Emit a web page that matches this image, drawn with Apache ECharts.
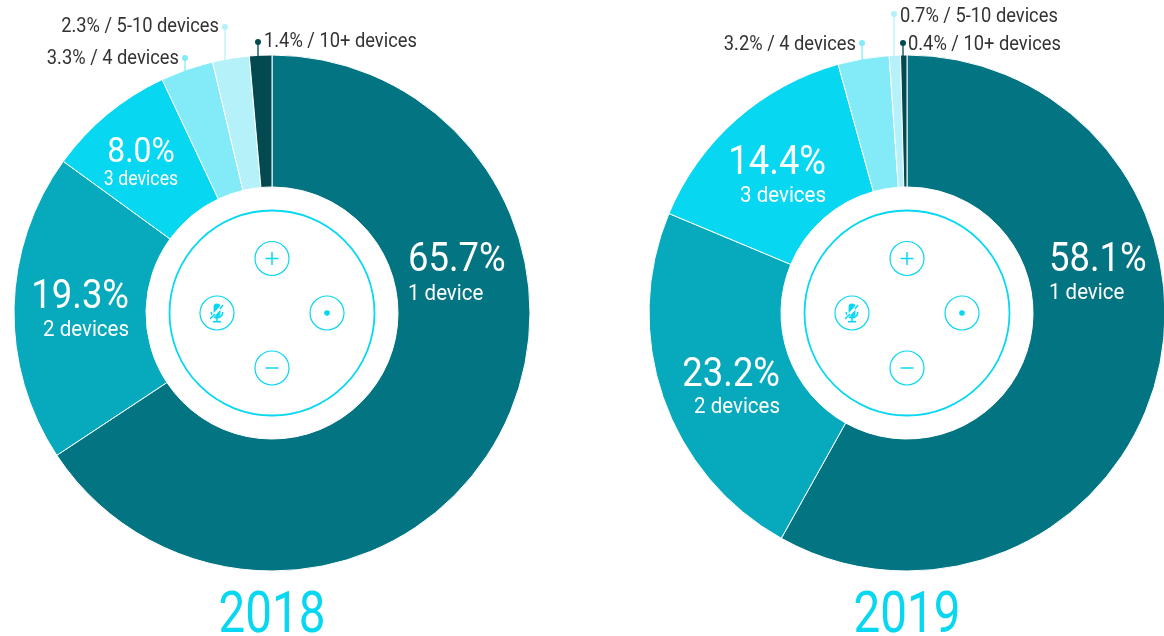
<!DOCTYPE html>
<html><head><meta charset="utf-8">
<style>html,body{margin:0;padding:0;background:#fff}#c{width:1164px;height:636px}</style>
<script src="https://cdn.jsdelivr.net/npm/echarts@6/dist/echarts.min.js"></script></head>
<body><div id="c"></div>
<script>
const categories = ['1 device','2 devices','3 devices','4 devices','5-10 devices','10+ devices'];
const values2018 = [65.7,19.3,8.0,3.3,2.3,1.4];
const values2019 = [58.1,23.2,14.4,3.2,0.7,0.4];
const years = ['2018','2019'];
const colors = ['#027482','#07a9bd','#07d7f0','#83ebf8','#b5f1f9','#034a50'];
const centers = [[272,313],[907,313]];
const R = 258, INNER = 126;
// big labels: [categoryIndex, x, y of pct, y of name, align, pct size, name size]
const bigLabels = [
 [[0,408,261,294,'left',40,22.5],[1,129,298,330,'right',40,22.5],[2,141,153,180,'center',35,19.5]],
 [[0,1049,261,293,'left',40,22.5],[1,780,376,407,'right',40,22.5],[2,826,164,196,'right',40,22.5]]
];
// small labels: [categoryIndex, text x, text y, align, dot x, dot y, line end y]
const smallLabels = [
 [[3,179,59,'right',185,58,72],[4,219,27,'right',225,27,61],[5,264,42,'left',258,42,57]],
 [[3,856,45,'right',862,43,60],[4,900,17,'left',894,14,57],[5,908,45,'left',903,43,56]]
];
const BIGSX = 0.91, SMALLSX = 0.915, YEARSX = 0.835;
const fontFam = 'Roboto, sans-serif';
const cyan = '#07d7f0';
function txt(text,x,y,size,weight,fill,align,sx){
  return {type:'text',x:x,y:y,scaleX:sx,silent:true,z:20,
    style:{text:text,x:0,y:0,font:weight+' '+size+'px '+fontFam,fill:fill,align:align,verticalAlign:'middle'}};
}
function ring(x,y,r,lw){
  return {type:'circle',x:x,y:y,shape:{cx:0,cy:0,r:r},silent:true,z:15,style:{fill:'#fff',stroke:cyan,lineWidth:lw}};
}
function line(x1,y1,x2,y2,col,lw){
  return {type:'line',shape:{x1:x1,y1:y1,x2:x2,y2:y2},silent:true,z:16,style:{stroke:col,lineWidth:lw}};
}
function hub(cx,cy){
  const g=[];
  g.push(ring(cx,cy,102.5,1.8));
  g.push(ring(cx,cy-54.5,17,1.2));
  g.push(ring(cx,cy+55,17,1.2));
  g.push(ring(cx-55,cy,17,1.2));
  g.push(ring(cx+55,cy,17,1.2));
  g.push(line(cx-6.5,cy-54.5,cx+6.5,cy-54.5,cyan,1.5));
  g.push(line(cx,cy-61,cx,cy-48,cyan,1.5));
  g.push(line(cx-6.5,cy+55,cx+6.5,cy+55,cyan,1.5));
  g.push({type:'circle',shape:{cx:cx+55,cy:cy,r:2.8},silent:true,z:16,style:{fill:cyan}});
  const mx=cx-55,my=cy;
  g.push({type:'rect',shape:{x:mx-3.4,y:my-9.5,width:6.8,height:13.5,r:3.4},silent:true,z:16,style:{fill:cyan}});
  g.push({type:'arc',shape:{cx:mx,cy:my-1,r:5.8,startAngle:0,endAngle:Math.PI,clockwise:true},silent:true,z:16,style:{stroke:cyan,lineWidth:1.5,fill:'none'}});
  g.push(line(mx,my+4.5,mx,my+8,cyan,1.5));
  g.push(line(mx-4,my+8.7,mx+4,my+8.7,cyan,1.6));
  g.push(line(mx-7,my+6,mx+6,my-8,'#fff',2.6));
  g.push(line(mx-7,my+6,mx-2,my+1,cyan,1.4));
  g.push(line(mx+3,my-4,mx+6,my-8,cyan,1.4));
  return g;
}
const allValues=[values2018,values2019];
const graphics=[];
allValues.forEach((vals,p)=>{
  const [cx,cy]=centers[p];
  graphics.push(...hub(cx,cy));
  bigLabels[p].forEach(l=>{
    const [i,x,y1,y2,al,s1,s2]=l;
    graphics.push(txt(vals[i].toFixed(1)+'%',x,y1,s1,400,'#fff',al,BIGSX));
    graphics.push(txt(categories[i],x,y2,s2,400,'#fff',al,BIGSX));
  });
  smallLabels[p].forEach(l=>{
    const [i,x,y,al,dx,dy,ey]=l;
    graphics.push(txt(vals[i].toFixed(1)+'% / '+categories[i],x,y,20,400,'#333',al,SMALLSX));
    graphics.push(line(dx,dy,dx,ey,colors[i],1.3));
    graphics.push({type:'circle',shape:{cx:dx,cy:dy,r:3},silent:true,z:16,style:{fill:colors[i]}});
  });
  graphics.push(txt(years[p],cx,618,57,400,cyan,'center',YEARSX));
});
const chart=echarts.init(document.getElementById('c'),null,{renderer:'canvas'});
chart.setOption({
  animation:false,
  graphic:{elements:graphics},
  series:allValues.map((vals,p)=>({
    type:'pie',center:centers[p],radius:[INNER,R],startAngle:90,clockwise:true,
    silent:true,label:{show:false},labelLine:{show:false},
    itemStyle:{borderColor:'#fff',borderWidth:1},
    data:vals.map((v,i)=>({name:categories[i],value:v,itemStyle:{color:colors[i]}}))
  }))
});
</script></body></html>
